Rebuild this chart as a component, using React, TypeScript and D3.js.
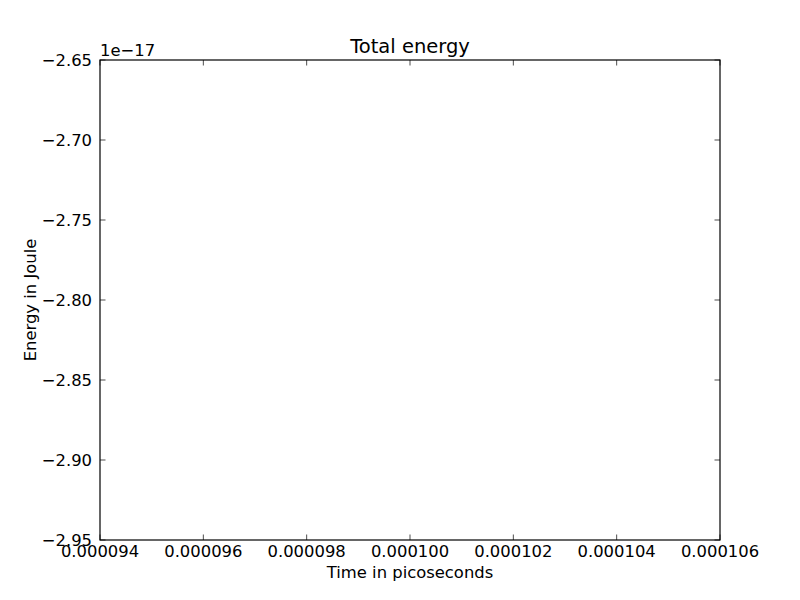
import { useEffect, useRef } from 'react';
import * as d3 from 'd3';

// axis ranges and tick values (the plot itself is empty)
const timeDomain = [0.000094, 0.000106];
const timeTicks = [0.000094, 0.000096, 0.000098, 0.0001, 0.000102, 0.000104, 0.000106];
const energyDomain = [-2.95, -2.65]; // times 1e-17
const energyTicks = [-2.95, -2.9, -2.85, -2.8, -2.75, -2.7, -2.65];
const energyExponent = '1e\u221217';

const WIDTH = 800;
const HEIGHT = 600;
const MARGIN = { top: 60, right: 80, bottom: 60, left: 100 };
const FONT = '"DejaVu Sans", sans-serif';
const TICK = 5.5;

export default function App() {
  const svgRef = useRef<SVGSVGElement>(null);

  useEffect(() => {
    if (!svgRef.current) return;
    const innerWidth = WIDTH - MARGIN.left - MARGIN.right;
    const innerHeight = HEIGHT - MARGIN.top - MARGIN.bottom;

    d3.select(svgRef.current).selectAll('*').remove();
    const svg = d3.select(svgRef.current);

    svg.append('rect').attr('width', WIDTH).attr('height', HEIGHT).attr('fill', '#fff');

    const g = svg.append('g').attr('transform', `translate(${MARGIN.left},${MARGIN.top})`);

    const x = d3.scaleLinear().domain(timeDomain).range([0, innerWidth]);
    const y = d3.scaleLinear().domain(energyDomain).range([innerHeight, 0]);

    const fmtX = d3.format('.6f');
    const fmtY = d3.format('.2f');

    // inward ticks on all four sides, matplotlib classic style
    const tickStyle = (sel: d3.Selection<any, any, any, any>) =>
      sel.attr('stroke', '#000').attr('stroke-width', 0.7);

    g.selectAll('.xt-bottom')
      .data(timeTicks)
      .join('line')
      .attr('x1', (d) => x(d))
      .attr('x2', (d) => x(d))
      .attr('y1', innerHeight)
      .attr('y2', innerHeight - TICK)
      .call(tickStyle);
    g.selectAll('.xt-top')
      .data(timeTicks)
      .join('line')
      .attr('x1', (d) => x(d))
      .attr('x2', (d) => x(d))
      .attr('y1', 0)
      .attr('y2', TICK)
      .call(tickStyle);
    g.selectAll('.yt-left')
      .data(energyTicks)
      .join('line')
      .attr('x1', 0)
      .attr('x2', TICK)
      .attr('y1', (d) => y(d))
      .attr('y2', (d) => y(d))
      .call(tickStyle);
    g.selectAll('.yt-right')
      .data(energyTicks)
      .join('line')
      .attr('x1', innerWidth)
      .attr('x2', innerWidth - TICK)
      .attr('y1', (d) => y(d))
      .attr('y2', (d) => y(d))
      .call(tickStyle);

    g.append('rect')
      .attr('width', innerWidth)
      .attr('height', innerHeight)
      .attr('fill', 'none')
      .attr('stroke', '#000')
      .attr('stroke-width', 1.2);

    g.selectAll('.xl')
      .data(timeTicks)
      .join('text')
      .attr('x', (d) => x(d))
      .attr('y', innerHeight + 17)
      .attr('text-anchor', 'middle')
      .attr('font-family', FONT)
      .attr('font-size', 16.4)
      .text((d) => fmtX(d));

    g.selectAll('.yl')
      .data(energyTicks)
      .join('text')
      .attr('x', -8)
      .attr('y', (d) => y(d) + 6)
      .attr('text-anchor', 'end')
      .attr('font-family', FONT)
      .attr('font-size', 16.4)
      .text((d) => fmtY(d));

    g.append('text')
      .attr('x', 0)
      .attr('y', -4.5)
      .attr('font-family', FONT)
      .attr('font-size', 16.4)
      .text(energyExponent);

    g.append('text')
      .attr('x', innerWidth / 2)
      .attr('y', -7)
      .attr('text-anchor', 'middle')
      .attr('font-family', FONT)
      .attr('font-size', 19.5)
      .text('Total energy');

    g.append('text')
      .attr('x', innerWidth / 2)
      .attr('y', innerHeight + 38)
      .attr('text-anchor', 'middle')
      .attr('font-family', FONT)
      .attr('font-size', 16.4)
      .text('Time in picoseconds');

    g.append('text')
      .attr('transform', `translate(${36 - MARGIN.left},${innerHeight / 2}) rotate(-90)`)
      .attr('text-anchor', 'middle')
      .attr('font-family', FONT)
      .attr('font-size', 16.4)
      .text('Energy in Joule');
  }, []);

  return (
    <svg
      ref={svgRef}
      width={WIDTH}
      height={HEIGHT}
      viewBox={`0 0 ${WIDTH} ${HEIGHT}`}
      style={{ position: 'absolute', left: 0, top: 0, display: 'block' }}
    />
  );
}
